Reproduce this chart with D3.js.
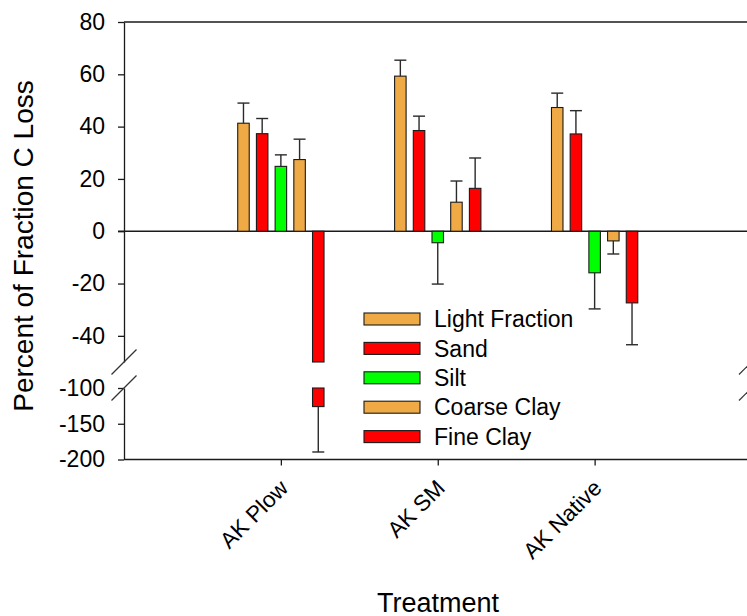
<!DOCTYPE html>
<html>
<head>
<meta charset="utf-8">
<script src="https://cdn.jsdelivr.net/npm/d3@7"></script>
<style>
  body { margin: 0; background: #fff; }
  svg { display: block; font-family: "Liberation Sans", Arial, sans-serif; }
</style>
</head>
<body>
<svg id="chart" width="747" height="616"></svg>
<script>
// ---- data ----
const categories = ["AK Plow", "AK SM", "AK Native"];
const seriesNames = ["Light Fraction", "Sand", "Silt", "Coarse Clay", "Fine Clay"];
const seriesColors = ["#f0aa45", "#ff0000", "#00ff00", "#f0aa45", "#ff0000"];
const lightFraction = [41.3, 59.3, 47.3];
const lightFractionErr = [7.7, 6.1, 5.5];
const sand = [37.3, 38.5, 37.2];
const sandErr = [5.8, 5.5, 8.9];
const silt = [24.8, -4.4, -15.9];
const siltErr = [4.4, 15.8, 13.8];
const coarseClay = [27.4, 11.1, -3.7];
const coarseClayErr = [7.8, 8.1, 5.0];
const fineClay = [-126, 16.4, -27.4];
const fineClayErr = [63.5, 11.6, 16.0];
const upperTicks = [-40, -20, 0, 20, 40, 60, 80];
const lowerTicks = [-200, -150, -100];
const breakLow = -100, breakHigh = -50;

const seriesValues = [lightFraction, sand, silt, coarseClay, fineClay];
const seriesErrors = [lightFractionErr, sandErr, siltErr, coarseClayErr, fineClayErr];

// ---- layout ----
const svg = d3.select("#chart");
const left = 124, right = 751.5;
const yTop = d3.scaleLinear().domain([breakHigh, 80]).range([362, 22]);
const yBot = d3.scaleLinear().domain([-200, breakLow]).range([459.5, 388]);
const x = d3.scalePoint().domain(categories).range([left, right]).padding(1);
const barStep = 18.7, barW = 11.5, capW = 12;
const ink = "#1a1a1a";
const fmt = d => String(d); // plain hyphen-minus as in the reference

function yv(v) { return v >= breakHigh ? yTop(v) : yBot(Math.max(v, -200)); }

// ---- zero line & top frame ----
svg.append("line").attr("x1", left - 6).attr("x2", right)
  .attr("y1", yTop(0)).attr("y2", yTop(0)).attr("stroke", ink).attr("stroke-width", 1.3);
svg.append("line").attr("x1", left).attr("x2", right)
  .attr("y1", yTop(80)).attr("y2", yTop(80)).attr("stroke", ink).attr("stroke-width", 1.3);

// ---- bars ----
const data = [];
seriesNames.forEach((s, si) => {
  categories.forEach((c, ci) => {
    data.push({ s, si, c, v: seriesValues[si][ci], e: seriesErrors[si][ci] });
  });
});

const gBars = svg.append("g");
data.forEach(d => {
  const cx = x(d.c) + (d.si - 2) * barStep;
  const segs = [];
  if (d.v < breakHigh) {
    segs.push([yTop(0), yTop(breakHigh)]);
    segs.push([yBot(breakLow), yBot(d.v)]);
  } else {
    segs.push([yTop(Math.max(0, d.v)), yTop(Math.min(0, d.v))]);
  }
  segs.forEach(([a, b]) => {
    const y0 = Math.min(a, b), y1 = Math.max(a, b);
    gBars.append("rect")
      .attr("x", cx - barW / 2).attr("y", y0)
      .attr("width", barW).attr("height", y1 - y0)
      .attr("fill", seriesColors[d.si]).attr("stroke", ink).attr("stroke-width", 1.1);
  });
  const end = d.v >= 0 ? d.v + d.e : d.v - d.e;
  const ya = yv(d.v), yb = yv(end);
  gBars.append("line").attr("x1", cx).attr("x2", cx).attr("y1", ya).attr("y2", yb)
    .attr("stroke", "#2a2a2a").attr("stroke-width", 1.4);
  gBars.append("line").attr("x1", cx - capW / 2).attr("x2", cx + capW / 2).attr("y1", yb).attr("y2", yb)
    .attr("stroke", "#2a2a2a").attr("stroke-width", 1.4);
});

// ---- axes ----
function styleAxis(g) {
  g.selectAll("path, line").attr("stroke", ink).attr("stroke-width", 1.3);
  g.selectAll("text").attr("fill", "#000").style("font-size", "23px")
    .style("font-family", "'Liberation Sans', Arial, sans-serif");
}
svg.append("g").attr("transform", `translate(${left},0)`)
  .call(d3.axisLeft(yTop).tickValues(upperTicks).tickFormat(fmt).tickSize(6).tickSizeOuter(0).tickPadding(13))
  .call(styleAxis);
svg.append("g").attr("transform", `translate(${left},0)`)
  .call(d3.axisLeft(yBot).tickValues(lowerTicks).tickFormat(fmt).tickSize(6).tickSizeOuter(0).tickPadding(13))
  .call(styleAxis);
svg.append("line").attr("x1", right).attr("x2", right).attr("y1", yTop(80)).attr("y2", yTop(breakHigh)).attr("stroke", ink);
svg.append("line").attr("x1", right).attr("x2", right).attr("y1", yBot(breakLow)).attr("y2", yBot(-200)).attr("stroke", ink);

const xAxis = svg.append("g").attr("transform", `translate(0,${yBot(-200)})`)
  .call(d3.axisBottom(x).tickSize(6).tickSizeOuter(0))
  .call(styleAxis);
xAxis.select("path.domain").attr("d", `M${left},0H${right}`);
xAxis.selectAll(".tick text")
  .attr("text-anchor", "end")
  .attr("x", 0).attr("y", 0).attr("dy", null)
  .attr("transform", "translate(8,30) rotate(-45)")
  .style("font-size", "22.5px");

// ---- break marks ----
[left, right].forEach(ax => {
  [yTop(breakHigh), yBot(breakLow)].forEach(yy => {
    svg.append("line")
      .attr("x1", ax - 12.5).attr("y1", yy + 12.5)
      .attr("x2", ax + 12.5).attr("y2", yy - 12.5)
      .attr("stroke", "#333").attr("stroke-width", 1.2);
  });
});

// ---- titles ----
svg.append("text").attr("transform", "translate(33,246) rotate(-90)")
  .attr("text-anchor", "middle").style("font-size", "28px").attr("fill", "#000")
  .text("Percent of Fraction C Loss");
svg.append("text").attr("x", 438).attr("y", 612)
  .attr("text-anchor", "middle").style("font-size", "27px").attr("fill", "#000")
  .text("Treatment");

// ---- legend ----
const leg = svg.append("g");
seriesNames.forEach((s, i) => {
  const cy = 319 + i * 29.4;
  leg.append("rect").attr("x", 364).attr("y", cy - 6).attr("width", 56).attr("height", 12)
    .attr("fill", seriesColors[i]).attr("stroke", ink).attr("stroke-width", 1.1);
  leg.append("text").attr("x", 434).attr("y", cy + 8.2)
    .style("font-size", "23px").attr("fill", "#000").text(s);
});
</script>
</body>
</html>
